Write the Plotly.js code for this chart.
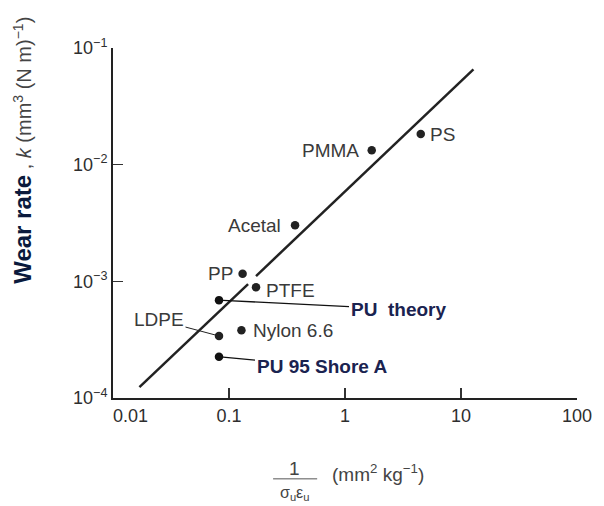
<!DOCTYPE html>
<html><head><meta charset="utf-8">
<script src="https://cdn.plot.ly/plotly-3.0.1.min.js"></script>
<style>html,body{margin:0;padding:0;background:#fff}</style>
</head><body><div id="chart" style="width:604px;height:506px"></div>
<script>
// ---- data ----
const materials = ['PS', 'PMMA', 'Acetal', 'PP', 'PTFE', 'Nylon 6.6', 'LDPE'];
const matX = [4.5, 1.70, 0.371, 0.131, 0.171, 0.128, 0.082];
const matY = [0.0183, 0.0133, 0.00303, 0.00116, 0.00089, 0.00038, 0.00034];

const puNames = ['PU\u00a0 theory', 'PU 95 Shore A'];
const puX = [0.082, 0.082];
const puY = [0.00069, 0.000226];

// fitted trend line (two segments, broken near PP/PTFE)
const lineX1 = [0.0169, 0.146];
const lineY1 = [0.000124, 0.000948];
const lineX2 = [0.171, 12.8];
const lineY2 = [0.00111, 0.0656];

const xTickVals = [0.01, 0.1, 1, 10, 100];
const xTickText = ['0.01', '0.1', '1', '10', '100'];
const yTickVals = [1e-4, 1e-3, 1e-2, 1e-1];
const yTickText = ['10<sup>\u22124</sup>', '10<sup>\u22123</sup>', '10<sup>\u22122</sup>', '10<sup>\u22121</sup>'];

// ---- styling (label placement) ----
const matLabelSide = ['right', 'left', 'left', 'left', 'right', 'right', 'arrow'];
const matLabelShift = [7, -11, -12, -8, 8, 10, 0];
const matLabelYShift = [0, 0, 0, 0, -3, 0, 0];
const ldpeOffset = [-60, -16];
const puOffsets = [[179, 9], [103, 10]];

const FAM = 'Liberation Sans, Arial, sans-serif';
const grayFont = {family: FAM, size: 19, color: '#3a3a3a'};
const puFont = {family: FAM, size: 19, color: '#1a2350'};
const tickFont = {family: FAM, size: 18, color: '#2e2e2e'};

const traces = [
  {x: lineX1, y: lineY1, mode: 'lines', line: {color: '#222', width: 2.5}, hoverinfo: 'skip'},
  {x: lineX2, y: lineY2, mode: 'lines', line: {color: '#222', width: 2.5}, hoverinfo: 'skip'},
  {x: matX, y: matY, mode: 'markers', marker: {color: '#222', size: 8.5}},
  {x: puX, y: puY, mode: 'markers', marker: {color: '#111', size: 8.5}}
];

const annotations = [];
materials.forEach((m, i) => {
  if (matLabelSide[i] === 'arrow') {
    annotations.push({x: Math.log10(matX[i]), y: Math.log10(matY[i]), xref: 'x', yref: 'y',
      text: m, showarrow: true, arrowhead: 0, arrowwidth: 1, arrowcolor: '#222',
      ax: ldpeOffset[0], ay: ldpeOffset[1], standoff: 3, font: grayFont});
  } else {
    annotations.push({x: Math.log10(matX[i]), y: Math.log10(matY[i]), xref: 'x', yref: 'y',
      text: m, showarrow: false, xanchor: matLabelSide[i] === 'right' ? 'left' : 'right',
      xshift: matLabelShift[i], yshift: matLabelYShift[i], font: grayFont});
  }
});
puNames.forEach((n, i) => {
  annotations.push({x: Math.log10(puX[i]), y: Math.log10(puY[i]), xref: 'x', yref: 'y',
    text: '<b>' + n + '</b>', showarrow: true, arrowhead: 0, arrowwidth: 1.3, arrowcolor: '#111',
    ax: puOffsets[i][0], ay: puOffsets[i][1], standoff: 4, font: puFont});
});

// first x tick label drawn beside the axis corner (shifted right, as in the reference)
annotations.push({x: Math.log10(xTickVals[0]), xref: 'x', yref: 'paper', y: 0, yanchor: 'top', yshift: -6,
  xanchor: 'left', xshift: -2, showarrow: false, text: xTickText[0], font: tickFont});

// y-axis title
annotations.push({xref: 'paper', yref: 'paper', x: -0.194, y: 0.709, xanchor: 'center', yanchor: 'middle',
  textangle: -90, showarrow: false,
  text: '<span style="font-size:24px;color:#0b1a3c"><b>Wear rate</b></span> , <i>k</i> (mm<sup>3</sup> (N m)<sup>\u22121</sup>)',
  font: {family: FAM, size: 20, color: '#444'}});
// x-axis title (fraction)
annotations.push({xref: 'paper', yref: 'paper', x: 0.392, y: -0.2, xanchor: 'center', yanchor: 'middle',
  showarrow: false, text: '1', font: {family: FAM, size: 19, color: '#444'}});
annotations.push({xref: 'paper', yref: 'paper', x: 0.392, y: -0.272, xanchor: 'center', yanchor: 'middle',
  showarrow: false, text: '\u03c3<sub>u</sub>\u03b5<sub>u</sub>', font: {family: FAM, size: 16, color: '#444'}});
annotations.push({xref: 'paper', yref: 'paper', x: 0.571, y: -0.215, xanchor: 'center', yanchor: 'middle',
  showarrow: false, text: '(mm<sup>2</sup> kg<sup>\u22121</sup>)', font: {family: FAM, size: 19, color: '#444'}});

const layout = {
  width: 604, height: 506,
  margin: {l: 113, r: 27, t: 48, b: 108},
  paper_bgcolor: '#fff', plot_bgcolor: '#fff',
  showlegend: false,
  font: {family: FAM, color: '#2a2a2a'},
  xaxis: {type: 'log', range: [-2, 2], tickvals: xTickVals,
    ticktext: xTickText.map((t, i) => i === 0 ? '' : t),
    showgrid: false, zeroline: false, showline: true, linecolor: '#222', linewidth: 2,
    ticks: 'inside', ticklen: 10, tickwidth: 1.5, tickcolor: '#333', tickfont: tickFont},
  yaxis: {type: 'log', range: [-4, -1], tickvals: yTickVals, ticktext: yTickText,
    showgrid: false, zeroline: false, showline: true, linecolor: '#222', linewidth: 2,
    ticks: 'inside', ticklen: 10, tickwidth: 1.5, tickcolor: '#333', tickfont: tickFont},
  shapes: [{type: 'line', xref: 'paper', yref: 'paper', x0: 0.345, x1: 0.44, y0: -0.231, y1: -0.231,
    line: {color: '#555', width: 1}}],
  annotations: annotations
};

Plotly.newPlot('chart', traces, layout, {displayModeBar: false, staticPlot: true});
</script></body></html>
